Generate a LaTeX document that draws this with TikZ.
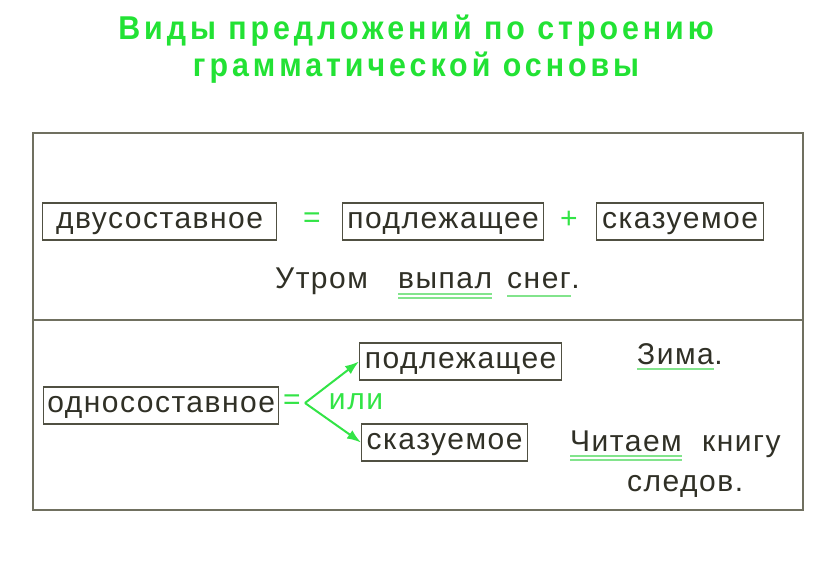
\documentclass[tikz,border=0pt]{standalone}
\usepackage{fontspec}
\setmainfont{Liberation Sans}[LetterSpace=5]
\newfontfamily\titlefont{Liberation Sans}[FakeStretch=0.92, LetterSpace=12]
\usetikzlibrary{arrows.meta}
\definecolor{titlegreen}{RGB}{34,226,52}
\definecolor{arrowgreen}{RGB}{50,228,70}
\definecolor{ulgreen}{RGB}{130,228,140}
\definecolor{frameline}{RGB}{112,112,96}
\definecolor{boxline}{RGB}{80,80,66}
\definecolor{ink}{RGB}{48,48,38}

\begin{document}
\begin{tikzpicture}[x=1pt,y=-1pt]
\tikzstyle{every node}+=[inner sep=0pt]
\tikzstyle{title}=[text=titlegreen, anchor=base, font=\titlefont\fontsize{33}{36}\selectfont\bfseries]
\tikzstyle{term}=[draw=boxline, line width=1.3pt, anchor=west, minimum height=37pt, text height=22pt, text depth=9pt, text=ink, font=\fontsize{30}{32}\selectfont]
\tikzstyle{word}=[anchor=base west, text=ink, font=\fontsize{30}{32}\selectfont]
\tikzstyle{sign}=[text=arrowgreen, font=\fontsize{30}{32}\selectfont]
\tikzstyle{ul}=[draw=ulgreen, line width=1.1pt]
\tikzstyle{frame}=[draw=frameline, line width=1.6pt]
\tikzstyle{arr}=[draw=arrowgreen, line width=2pt, -{Latex[length=14pt,width=10pt]}]
\useasboundingbox (0,0) rectangle (816,564);
\fill [white] (0,0) rectangle (816,564);
\node [title] (title1) at (416,40) {Виды предложений по строению};
\node [title] (title2) at (416,77) {грамматической основы};
\draw [frame] (33,133) rectangle (803,510);
\draw [frame] (33,320) -- (803,320);
\node [term, minimum width=234pt] (dvusost) at (42,221.5) {двусоставное};
\node [sign] (eqtop) at (312,220) {=};
\node [term, minimum width=201pt] (podltop) at (342,221.5) {подлежащее};
\node [sign] (plus) at (569,220) {+};
\node [term, minimum width=167pt] (skaztop) at (596,221.5) {сказуемое};
\node [word] (utrom) at (275,288) {Утром};
\node [word] (vypal) at (398,288) {выпал};
\node [word] (sneg) at (507,288) {снег};
\node [word] (dot1) at (sneg.base east) {.};
\draw [ul] ([yshift=-6pt]vypal.base west) -- ([yshift=-6pt]vypal.base east);
\draw [ul] ([yshift=-10pt]vypal.base west) -- ([yshift=-10pt]vypal.base east);
\draw [ul] ([yshift=-8pt]sneg.base west) -- ([yshift=-8pt]sneg.base east);
\node [term, minimum width=235pt] (odnosost) at (43,405.5) {односоставное};
\node [sign] (eqbot) at (292,402) {=};
\coordinate (fork) at (305,403);
\node [term, minimum width=202pt] (podlbot) at (359,361.5) {подлежащее};
\node [term, minimum width=166pt] (skazbot) at (361,442.5) {сказуемое};
\node [sign, anchor=base] (ili) at (356,409) {или};
\draw [arr] (fork) -- (podlbot.west);
\draw [arr] (fork) -- (skazbot.west);
\node [word] (zima) at (637,364) {Зима};
\node [word] (dot2) at (zima.base east) {.};
\draw [ul] ([yshift=-5pt]zima.base west) -- ([yshift=-5pt]zima.base east);
\node [word] (chitaem) at (570,451) {Читаем};
\node [word] (knigu) at (702,451) {книгу};
\node [word] (sledov) at (627,491) {следов.};
\draw [ul] ([yshift=-5pt]chitaem.base west) -- ([yshift=-5pt]chitaem.base east);
\draw [ul] ([yshift=-9pt]chitaem.base west) -- ([yshift=-9pt]chitaem.base east);
\end{tikzpicture}
\end{document}
